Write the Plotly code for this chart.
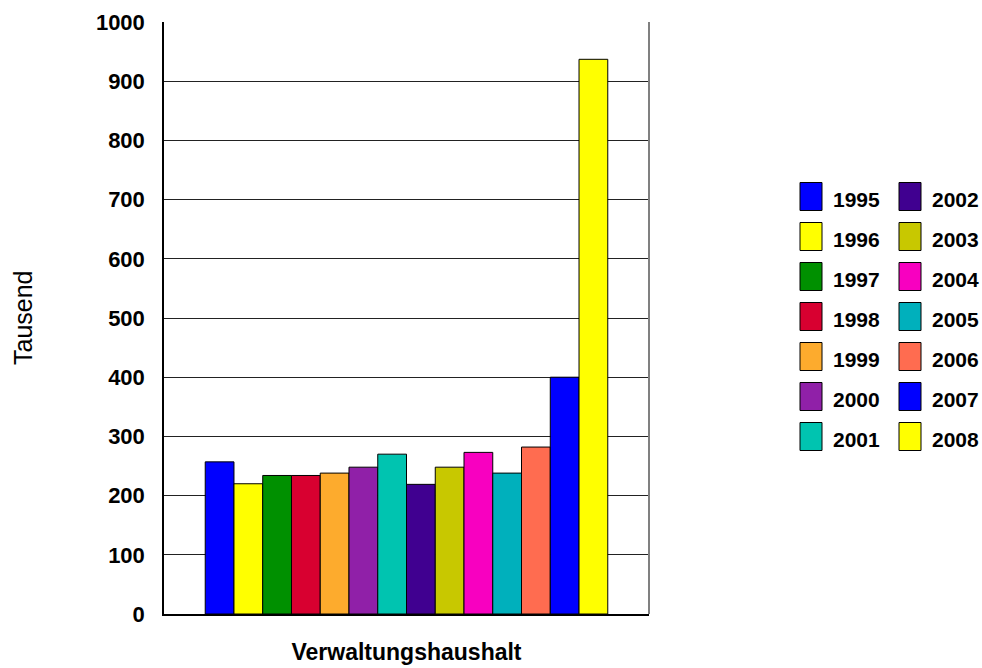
import plotly.graph_objects as go

category = ["Verwaltungshaushalt"]
years = ["1995", "1996", "1997", "1998", "1999", "2000", "2001",
         "2002", "2003", "2004", "2005", "2006", "2007", "2008"]
values = [257, 220, 234, 234, 238, 248, 270, 219, 248, 273, 238, 282, 400, 937]
colors = ["#0000FF", "#FFFF00", "#009000", "#D80030", "#FDAB2D", "#9020A8", "#00C4B0",
          "#400090", "#C8C800", "#F800C0", "#00B0BC", "#FF6C50", "#0000FF", "#FFFF00"]
y_ticks = [0, 100, 200, 300, 400, 500, 600, 700, 800, 900, 1000]

W, H = 982, 668
L, R, T, B = 164, 649, 22, 614

fig = go.Figure()
for yr, v, c in zip(years, values, colors):
    fig.add_trace(go.Bar(
        x=category, y=[v], name=yr,
        marker=dict(color=c, line=dict(color="#000000", width=1)),
        showlegend=False,
    ))

def xp(px):
    return (px - L) / (R - L)

def yp(py):
    return (B - py) / (B - T)

shapes = []
annotations = []
# custom two-column legend
for i, (yr, c) in enumerate(zip(years, colors)):
    col, row = divmod(i, 7)
    sx0 = 800 + col * 99
    sy0 = 182.5 + row * 40
    shapes.append(dict(type="rect", xref="paper", yref="paper",
                       x0=xp(sx0), x1=xp(sx0 + 22), y0=yp(sy0 + 28), y1=yp(sy0),
                       fillcolor=c, line=dict(color="#000000", width=1)))
    annotations.append(dict(xref="paper", yref="paper", x=xp(sx0 + 31), y=yp(sy0 + 17),
                            text=yr, showarrow=False, xanchor="left", yanchor="middle",
                            font=dict(family="Liberation Sans, Arial, sans-serif",
                                      size=21, color="#000000", weight="bold")))
# right frame line
shapes.append(dict(type="line", xref="paper", yref="paper", x0=1, x1=1, y0=0, y1=1,
                   line=dict(color="#808080", width=2)))
# y-axis title
annotations.append(dict(xref="paper", yref="paper", x=xp(23), y=yp(318),
                        text="Tausend", showarrow=False, textangle=-90,
                        xanchor="center", yanchor="middle",
                        font=dict(family="Liberation Sans, Arial, sans-serif",
                                  size=25, color="#000000")))

fig.update_layout(
    width=W, height=H,
    margin=dict(l=L, r=W - R, t=T, b=H - B, pad=0, autoexpand=False),
    paper_bgcolor="white", plot_bgcolor="white",
    barmode="group", bargap=0.17, bargroupgap=0,
    shapes=shapes, annotations=annotations,
    xaxis=dict(
        automargin=False,
        showline=True, linecolor="#000000", linewidth=2,
        showgrid=False, ticks="", tickfont=dict(family="Liberation Sans, Arial, sans-serif",
                                                size=23, color="#000000", weight="bold"),
        ticklabelstandoff=16,
    ),
    yaxis=dict(
        automargin=False,
        range=[0, 1000], tickvals=y_ticks, ticktext=[str(t) for t in y_ticks],
        showline=True, linecolor="#000000", linewidth=1.5,
        showgrid=True, gridcolor="#222222", gridwidth=1,
        zeroline=False, ticks="", ticklabelstandoff=13,
        tickfont=dict(family="Liberation Sans, Arial, sans-serif", size=22,
                      color="#000000", weight="bold"),
    ),
)

fig.write_html("out.html")
